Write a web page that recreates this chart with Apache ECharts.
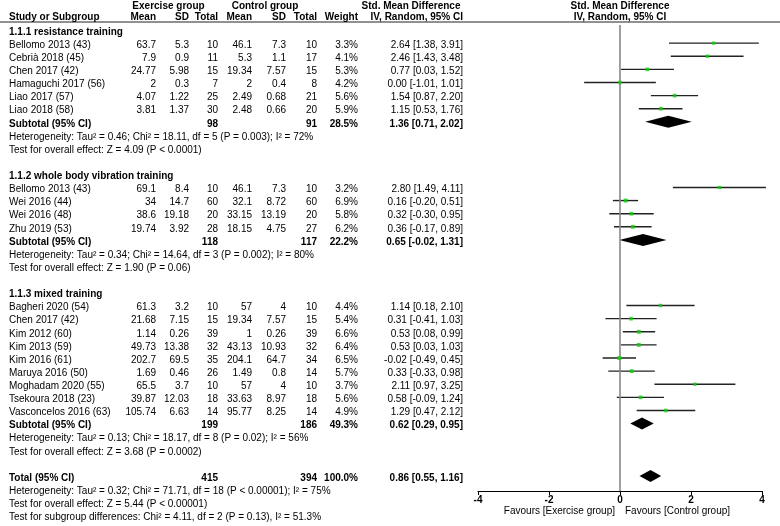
<!DOCTYPE html>
<html><head><meta charset="utf-8">
<script src="https://cdn.jsdelivr.net/npm/echarts@6/dist/echarts.min.js"></script>
<style>html,body{margin:0;padding:0;background:#fff}#c{width:780px;height:526px}</style>
</head><body><div id="c"></div>
<script>
// ---------- data ----------
const studyNames = ["Bellomo 2013 (43)","Cebrià 2018 (45)","Chen 2017 (42)","Hamaguchi 2017 (56)","Liao 2017 (57)","Liao 2018 (58)",
  "Bellomo 2013 (43)","Wei 2016 (44)","Wei 2016 (48)","Zhu 2019 (53)",
  "Bagheri 2020 (54)","Chen 2017 (42)","Kim 2012 (60)","Kim 2013 (59)","Kim 2016 (61)","Maruya 2016 (50)","Moghadam 2020 (55)","Tsekoura 2018 (23)","Vasconcelos 2016 (63)"];
const studyGroup = [0,0,0,0,0,0, 1,1,1,1, 2,2,2,2,2,2,2,2,2];
const expMean = ["63.7","7.9","24.77","2","4.07","3.81","69.1","34","38.6","19.74","61.3","21.68","1.14","49.73","202.7","1.69","65.5","39.87","105.74"];
const expSD   = ["5.3","0.9","5.98","0.3","1.22","1.37","8.4","14.7","19.18","3.92","3.2","7.15","0.26","13.38","69.5","0.46","3.7","12.03","6.63"];
const expN    = [10,11,15,7,25,30,10,60,20,28,10,15,39,32,35,26,10,18,14];
const ctlMean = ["46.1","5.3","19.34","2","2.49","2.48","46.1","32.1","33.15","18.15","57","19.34","1","43.13","204.1","1.49","57","33.63","95.77"];
const ctlSD   = ["7.3","1.1","7.57","0.4","0.68","0.66","7.3","8.72","13.19","4.75","4","7.57","0.26","10.93","64.7","0.8","4","8.97","8.25"];
const ctlN    = [10,17,15,8,21,20,10,60,20,27,10,15,39,32,34,14,10,18,14];
const weight  = [3.3,4.1,5.3,4.2,5.6,5.9,3.2,6.9,5.8,6.2,4.4,5.4,6.6,6.4,6.5,5.7,3.7,5.6,4.9];
const smd     = [2.64,2.46,0.77,0.00,1.54,1.15,2.80,0.16,0.32,0.36,1.14,0.31,0.53,0.53,-0.02,0.33,2.11,0.58,1.29];
const ciLow   = [1.38,1.43,0.03,-1.01,0.87,0.53,1.49,-0.20,-0.30,-0.17,0.18,-0.41,0.08,0.03,-0.49,-0.33,0.97,-0.09,0.47];
const ciHigh  = [3.91,3.48,1.52,1.01,2.20,1.76,4.11,0.51,0.95,0.89,2.10,1.03,0.99,1.03,0.45,0.98,3.25,1.24,2.12];

const subTitles = ["1.1.1 resistance training","1.1.2 whole body vibration training","1.1.3 mixed training"];
const subExpN   = [98,118,199];
const subCtlN   = [91,117,186];
const subWeight = [28.5,22.2,49.3];
const subSmd    = [1.36,0.65,0.62];
const subLow    = [0.71,-0.02,0.29];
const subHigh   = [2.02,1.31,0.95];
const subHet = ["Heterogeneity: Tau² = 0.46; Chi² = 18.11, df = 5 (P = 0.003); I² = 72%",
                "Heterogeneity: Tau² = 0.34; Chi² = 14.64, df = 3 (P = 0.002); I² = 80%",
                "Heterogeneity: Tau² = 0.13; Chi² = 18.17, df = 8 (P = 0.02); I² = 56%"];
const subTest = ["Test for overall effect: Z = 4.09 (P < 0.0001)",
                 "Test for overall effect: Z = 1.90 (P = 0.06)",
                 "Test for overall effect: Z = 3.68 (P = 0.0002)"];

const totalExpN = 415, totalCtlN = 394, totalWeight = 100.0;
const totalSmd = 0.86, totalLow = 0.55, totalHigh = 1.16;
const totalLines = ["Heterogeneity: Tau² = 0.32; Chi² = 71.71, df = 18 (P < 0.00001); I² = 75%",
                    "Test for overall effect: Z = 5.44 (P < 0.00001)",
                    "Test for subgroup differences: Chi² = 4.11, df = 2 (P = 0.13), I² = 51.3%"];
const xTicks = [-4,-2,0,2,4];
const favourLabels = ["Favours [Exercise group]","Favours [Control group]"];

// ---------- layout ----------
const ROW0 = 32, ROWH = 13.12, FOREST_SHIFT = -2;
const col = {name:9, eM:156, eSD:189, eN:218, cM:252, cSD:286, cN:317, w:358, ci:463};
const fmtCI = (m,l,h) => m.toFixed(2)+" ["+l.toFixed(2)+", "+h.toFixed(2)+"]";

const texts = [];   // {x,r,t,a,b}
const T = (x,r,t,a,b)=>texts.push({x,r,t,a:a||'right',b:!!b});
// header
T(168.5,-1.95,"Exercise group",'center',true);
T(265,-1.95,"Control group",'center',true);
T(411,-1.95,"Std. Mean Difference",'center',true);
T(620,-1.95,"Std. Mean Difference",'center',true);
T(col.name,-1.12,"Study or Subgroup",'left',true);
T(col.eM,-1.12,"Mean",'right',true); T(col.eSD,-1.12,"SD",'right',true); T(col.eN,-1.12,"Total",'right',true);
T(col.cM,-1.12,"Mean",'right',true); T(col.cSD,-1.12,"SD",'right',true); T(col.cN,-1.12,"Total",'right',true);
T(col.w,-1.12,"Weight",'right',true); T(col.ci,-1.12,"IV, Random, 95% CI",'right',true);
T(620,-1.12,"IV, Random, 95% CI",'center',true);

const studyRow = [], subRow = [];
let r = 0;
for (let g=0; g<subTitles.length; g++){
  T(col.name,r,subTitles[g],'left',true); r++;
  for (let i=0;i<studyNames.length;i++){
    if (studyGroup[i]!==g) continue;
    studyRow[i]=r;
    T(col.name,r,studyNames[i],'left');
    T(col.eM,r,expMean[i]); T(col.eSD,r,expSD[i]); T(col.eN,r,String(expN[i]));
    T(col.cM,r,ctlMean[i]); T(col.cSD,r,ctlSD[i]); T(col.cN,r,String(ctlN[i]));
    T(col.w,r,weight[i].toFixed(1)+"%"); T(col.ci,r,fmtCI(smd[i],ciLow[i],ciHigh[i]));
    r++;
  }
  subRow[g]=r;
  T(col.name,r,"Subtotal (95% CI)",'left',true); T(col.eN,r,String(subExpN[g]),'right',true);
  T(col.cN,r,String(subCtlN[g]),'right',true); T(col.w,r,subWeight[g].toFixed(1)+"%",'right',true);
  T(col.ci,r,fmtCI(subSmd[g],subLow[g],subHigh[g]),'right',true); r++;
  T(col.name,r,subHet[g],'left'); r++;
  T(col.name,r,subTest[g],'left'); r++;
  r++;
}
const totalRow = r;
T(col.name,r,"Total (95% CI)",'left',true); T(col.eN,r,String(totalExpN),'right',true);
T(col.cN,r,String(totalCtlN),'right',true); T(col.w,r,totalWeight.toFixed(1)+"%",'right',true);
T(col.ci,r,fmtCI(totalSmd,totalLow,totalHigh),'right',true); r++;
totalLines.forEach(s=>{T(col.name,r,s,'left'); r++;});
const favR = (511-ROW0)/ROWH;
T(615,favR,favourLabels[0],'right'); T(625,favR,favourLabels[1],'left');

const FONT = '"Liberation Sans", Arial, sans-serif';
const forestTop = 25, forestBottomPx = 491;
const chart = echarts.init(document.getElementById('c'));
const studyIdx = studyNames.map((_,i)=>i);
const diamonds = subSmd.map((m,g)=>[m,subLow[g],subHigh[g],subRow[g]]).concat([[totalSmd,totalLow,totalHigh,totalRow]]);

chart.setOption({
  animation:false,
  grid:[
    {left:0,right:0,top:0,bottom:0},
    {left:478,right:18,top:forestTop,bottom:526-forestBottomPx}
  ],
  xAxis:[
    {gridIndex:0,type:'value',min:0,max:780,show:false},
    {gridIndex:1,type:'value',min:-4,max:4,interval:2,position:'bottom',
     axisLine:{onZero:false,lineStyle:{color:'#000',width:1}},
     axisTick:{length:4,lineStyle:{color:'#000'}},
     splitLine:{show:false},
     axisLabel:{color:'#000',fontWeight:'bold',fontSize:10,fontFamily:FONT,margin:4,
       formatter:v=>xTicks.includes(v)?String(v):''}}
  ],
  yAxis:[
    {gridIndex:0,type:'value',inverse:true,min:(0-ROW0)/ROWH,max:(526-ROW0)/ROWH,show:false},
    {gridIndex:1,type:'value',inverse:true,min:(forestTop-ROW0-FOREST_SHIFT)/ROWH,max:(forestBottomPx-ROW0-FOREST_SHIFT)/ROWH,show:false}
  ],
  graphic:[{type:'line',shape:{x1:0,y1:22,x2:780,y2:22},style:{stroke:'#222',lineWidth:1}}],
  series:[
    {type:'custom',xAxisIndex:0,yAxisIndex:0,silent:true,
     data:texts.map(t=>[t.x,t.r]),
     renderItem:(p,api)=>{const t=texts[p.dataIndex];const c=api.coord([api.value(0),api.value(1)]);
       return {type:'text',x:c[0],y:c[1],style:{text:t.t,align:t.a,verticalAlign:'middle',
         font:(t.b?'bold ':'')+'10px '+FONT,fill:'#000'}};}},
    {type:'custom',xAxisIndex:1,yAxisIndex:1,silent:true,
     data:studyIdx.map(i=>[ciLow[i],ciHigh[i],studyRow[i]]),
     renderItem:(p,api)=>{const a=api.coord([api.value(0),api.value(2)]);const b=api.coord([api.value(1),api.value(2)]);
       return {type:'line',shape:{x1:a[0],y1:a[1],x2:b[0],y2:b[1]},style:{stroke:'#222',lineWidth:1.4}};},
     markLine:{silent:true,symbol:'none',label:{show:false},lineStyle:{color:'#888',width:1.6,type:'solid'},data:[{xAxis:0}]}},
    {type:'scatter',xAxisIndex:1,yAxisIndex:1,silent:true,symbol:'rect',
     data:studyIdx.map(i=>[smd[i],studyRow[i],weight[i]]),
     symbolSize:v=>2.6+v[2]*0.2,itemStyle:{color:'#0fcf0f'},z:5},
    {type:'custom',xAxisIndex:1,yAxisIndex:1,silent:true,
     data:diamonds,
     renderItem:(p,api)=>{const m=api.value(0),l=api.value(1),h=api.value(2),rr=api.value(3);
       const c=api.coord([m,rr]),a=api.coord([l,rr]),b=api.coord([h,rr]);
       return {type:'polygon',shape:{points:[[a[0],c[1]],[c[0],c[1]-6],[b[0],c[1]],[c[0],c[1]+6]]},style:{fill:'#000'}};}}
  ]
});
</script></body></html>
